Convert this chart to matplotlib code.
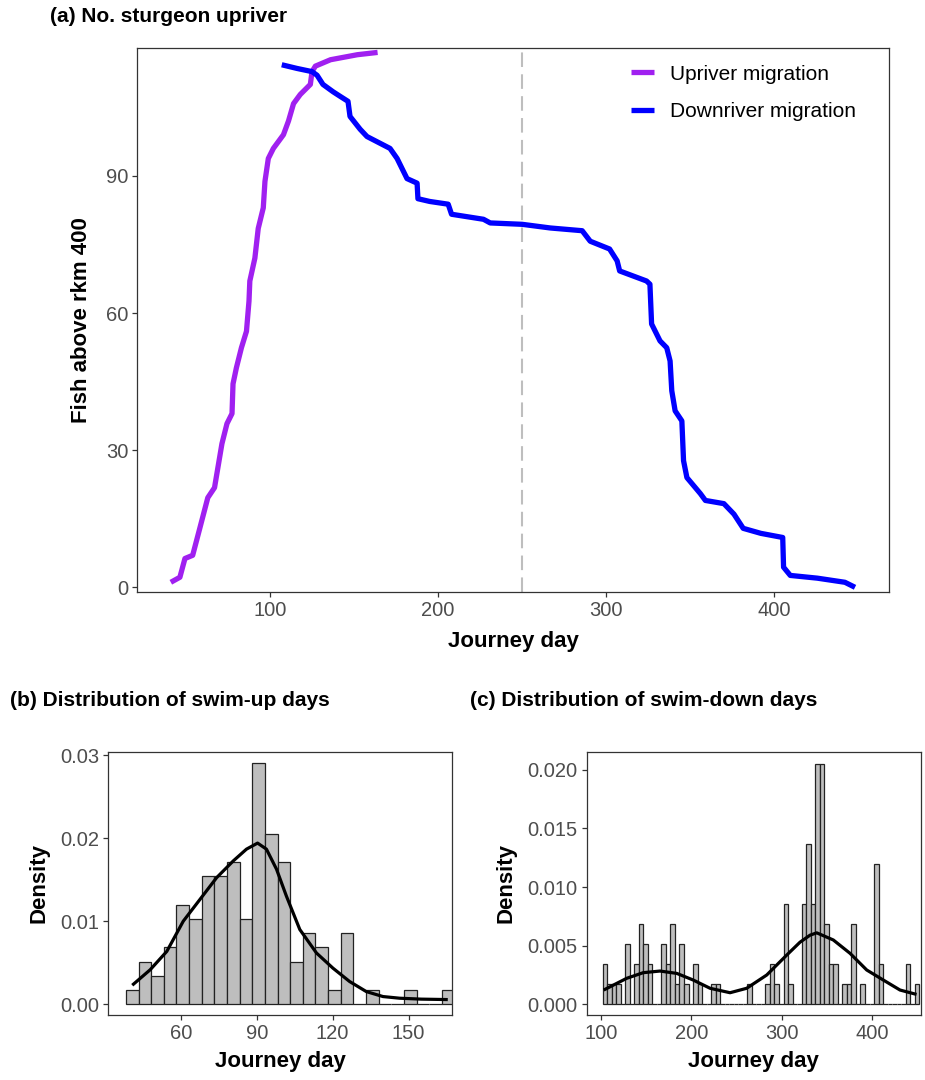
import numpy as np
import matplotlib
matplotlib.use("Agg")
import matplotlib.pyplot as plt

plt.rcParams['font.family'] = ['Liberation Sans', 'DejaVu Sans']

# (a) fish above rkm 400 by journey day
up_day = [41, 46.4, 49.4, 54, 58.3, 63, 67, 71.4, 74.4, 77.4, 78, 80, 83, 86, 87.5,
          88, 91, 93, 96, 97, 99, 102, 108, 111, 114, 118, 124, 125, 127, 136, 152, 164]
up_fish = [1.1, 2.2, 6.3, 7, 13, 19.6, 21.8, 31.4, 35.8, 38, 44.5, 48, 52.4, 56, 62.6,
           67, 72, 78.5, 83, 88.8, 93.8, 96, 99, 102, 105.8, 107.8, 110, 112.8, 114, 115.4, 116.5, 117]
down_day = [107, 116, 125, 128, 131.5, 137.5, 141.7, 146.4, 147.6, 153.6, 157.7, 171.4, 175.6,
            181.5, 187.5, 188, 195, 206, 208, 227, 231, 250, 266.7, 285.7, 290.5, 302, 306.5,
            308, 324, 326, 327, 332, 336, 338, 339, 341, 345, 346, 348, 356, 359, 370, 376,
            381.5, 392, 405, 405.5, 409.5, 425.6, 442, 448]
down_fish = [114.3, 113.5, 112.8, 112, 110, 108.4, 107.4, 106.3, 103, 100.2, 98.6, 96, 93.8,
             89.4, 88.4, 85, 84.4, 83.8, 81.6, 80.5, 79.7, 79.4, 78.6, 78, 75.7, 74, 71.4,
             69.2, 67, 66.3, 57.6, 53.9, 52.4, 49.5, 43, 38.6, 36.4, 27.7, 24, 20.5, 19, 18.3, 16,
             12.9, 11.8, 10.9, 4.4, 2.6, 2, 1.1, 0]
cutoff_day = 250

# (b) swim-up days, histogram counts (binwidth 5) and density curve
n_fish = 117
bin_width = 5
up_bin_start = 38.2
up_counts = [1, 3, 2, 4, 7, 6, 9, 9, 10, 6, 17, 12, 10, 3, 5, 4, 1, 5, 0, 1, 0, 0, 1, 0, 0, 1]
up_kde_day = [41.2, 47.8, 54.4, 60.9, 67.5, 74.1, 80.7, 85.9, 90.3, 93.8, 97.8, 101.7,
              107, 113.6, 120.1, 126.7, 133.3, 139.9, 146.5, 155, 164.9]
up_kde = [0.00242, 0.00415, 0.00637, 0.0100, 0.01262, 0.01524, 0.01726, 0.01867, 0.0194,
          0.01867, 0.01625, 0.01302, 0.0090, 0.00617, 0.00435, 0.00274, 0.00153, 0.00093,
          0.00073, 0.00062, 0.00057]

# (c) swim-down days
down_bin_start = 102
down_counts = [2, 1, 1, 1, 0, 3, 0, 2, 4, 3, 2, 0, 0, 3, 2, 4, 1, 3, 1, 0,
               2, 1, 0, 0, 1, 1, 0, 0, 0, 0, 0, 0, 1, 0, 0, 0, 1, 2, 1, 0,
               5, 1, 0, 0, 5, 8, 5, 12, 12, 4, 2, 2, 0, 1, 1, 4, 0, 1, 0, 0,
               7, 2, 0, 0, 0, 0, 0, 2, 0, 1]
down_kde_day = [104.8, 128.7, 147, 165.5, 184, 202.3, 220.8, 242.9, 261.3, 283.4, 305.5,
                320.2, 331.3, 338.7, 357, 375.5, 393.9, 412.3, 430.7, 447.3]
down_kde = [0.00128, 0.00222, 0.0027, 0.00284, 0.00264, 0.00207, 0.00137, 0.00099, 0.00137,
            0.0025, 0.0042, 0.0053, 0.0059, 0.0061, 0.00549, 0.00435, 0.00293, 0.00207,
            0.00122, 0.00088]

TICK_COL = '#4D4D4D'
FS = 14.5


def style(ax):
    for s in ax.spines.values():
        s.set_color('#333333')
        s.set_linewidth(0.9)
    ax.tick_params(direction='out', length=3.5, width=0.9, color='#333333',
                   labelcolor=TICK_COL, labelsize=FS, pad=3)


fig = plt.figure(figsize=(9.25, 10.8), dpi=100)
W, H = 925, 1080


def px_axes(l, t, r, b):
    return fig.add_axes([l / W, 1 - b / H, (r - l) / W, (b - t) / H])


# panel (a)
ax = px_axes(137.3, 48.3, 889.3, 591.7)
ax.plot(up_day, up_fish, color='#A020F0', lw=3.8, solid_capstyle='butt', label='Upriver migration')
ax.plot(down_day, down_fish, color='#0000FF', lw=3.8, solid_capstyle='butt', label='Downriver migration')
ax.axvline(cutoff_day, color='#BEBEBE', lw=1.5, ls=(0, (7, 3.5)), zorder=0)
ax.set_xlim(21.06, 468.4)
ax.set_ylim(-0.96, 117.9)
ax.set_xticks([100, 200, 300, 400])
ax.set_yticks([0, 30, 60, 90])
style(ax)
ax.set_xlabel('Journey day', fontsize=16, fontweight='bold', labelpad=8)
ax.set_ylabel('Fish above rkm 400', fontsize=16, fontweight='bold', labelpad=10)
ax.legend(loc='upper left', bbox_to_anchor=(0.657, 0.97), frameon=False, fontsize=15,
          handlelength=1.1, handletextpad=0.75, labelspacing=0.9, borderpad=0, borderaxespad=0)
fig.text(50 / W, 1 - 17 / H, '(a) No. sturgeon upriver', fontsize=15, fontweight='bold', va='center')

# panel (b)
axb = px_axes(108.3, 751.7, 452, 1015)
up_edges = up_bin_start + bin_width * np.arange(len(up_counts))
axb.bar(up_edges, np.array(up_counts) / (n_fish * bin_width), width=bin_width, align='edge',
        color='#BEBEBE', edgecolor='#222222', linewidth=0.9)
axb.plot(up_kde_day, up_kde, color='black', lw=2.3)
axb.set_xlim(31.25, 167.2)
axb.set_ylim(-0.00129, 0.0304)
axb.set_xticks([60, 90, 120, 150])
axb.set_yticks([0, 0.01, 0.02, 0.03])
axb.set_yticklabels(['0.00', '0.01', '0.02', '0.03'])
style(axb)
axb.set_xlabel('Journey day', fontsize=16, fontweight='bold', labelpad=6)
axb.set_ylabel('Density', fontsize=16, fontweight='bold', labelpad=8)
fig.text(10 / W, 1 - 700 / H, '(b) Distribution of swim-up days', fontsize=15, fontweight='bold', va='center')

# panel (c)
axc = px_axes(586.7, 751.7, 921, 1015)
down_edges = down_bin_start + bin_width * np.arange(len(down_counts))
axc.bar(down_edges, np.array(down_counts) / (n_fish * bin_width), width=bin_width, align='edge',
        color='#BEBEBE', edgecolor='#222222', linewidth=0.9)
axc.plot(down_kde_day, down_kde, color='black', lw=2.3)
axc.set_xlim(84.5, 453.9)
axc.set_ylim(-0.00091, 0.02155)
axc.set_xticks([100, 200, 300, 400])
axc.set_yticks([0, 0.005, 0.01, 0.015, 0.02])
axc.set_yticklabels(['0.000', '0.005', '0.010', '0.015', '0.020'])
style(axc)
axc.set_xlabel('Journey day', fontsize=16, fontweight='bold', labelpad=6)
axc.set_ylabel('Density', fontsize=16, fontweight='bold', labelpad=8)
fig.text(470 / W, 1 - 700 / H, '(c) Distribution of swim-down days', fontsize=15, fontweight='bold', va='center')

fig.savefig('out.png', dpi=100, facecolor='white')
